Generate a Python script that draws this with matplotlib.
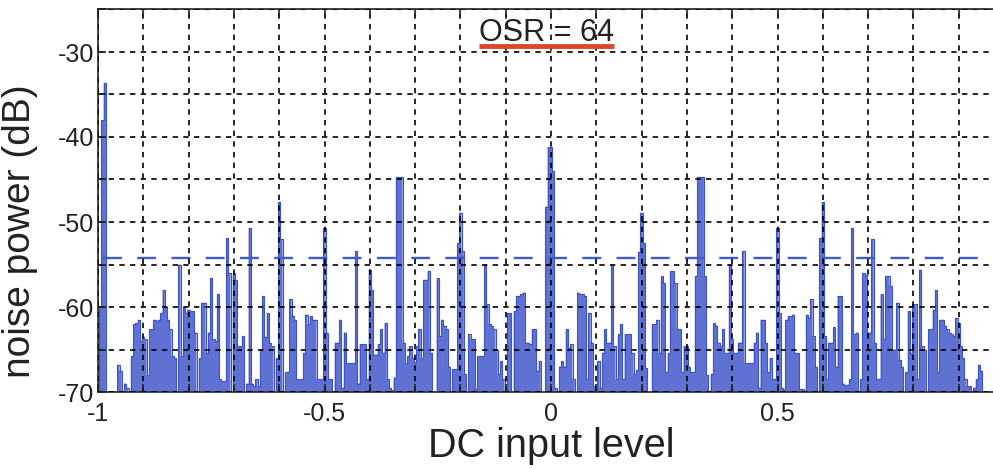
import numpy as np
import matplotlib
matplotlib.use('Agg')
import matplotlib.pyplot as plt
from matplotlib.ticker import MultipleLocator, FuncFormatter

plt.rcParams['font.family'] = ['Liberation Sans', 'DejaVu Sans']

# ---------------- data ----------------
dc_start, dc_stop, dc_count = -1.0, 1.0, 401   # DC input levels, 0.005 apart

# noise power (dB) for DC input -1.000 ... -0.005
noise_neg = [
    -70, -60, -38, -33.7, -70, -70, -70, -70, -70, -66.8, -67.5, -70, -69, -69.5, -70, -65.8, -62, -61.9, -61.5, -64,
    -63.5, -63.8, -68, -62.6, -62.6, -61.5, -61.7, -61.5, -60.7, -58, -60, -61.5, -62.6, -65.8, -66, -70, -55, -65.8, -60, -60.7,
    -60.3, -60.5, -60.5, -63, -70, -66, -59.5, -59.5, -65.4, -63, -56.6, -63.8, -64, -58.5, -68.5, -68.7, -68.7, -51.9, -56, -70,
    -56, -56.8, -64.6, -64.6, -63.4, -70, -69, -50.7, -69, -69.3, -68.5, -69.3, -65, -58.7, -63.5, -60.7, -64.2, -64.6, -70, -66,
    -47.7, -52, -70, -67.7, -67.7, -59.1, -61, -61.5, -68.5, -68.5, -68.5, -65.4, -60.9, -62, -61.1, -61.5, -61.5, -68.5, -68.5, -68.5,
    -50.7, -63, -68.5, -68.5, -70, -64.2, -64.2, -61.5, -69.5, -63, -66.6, -66.6, -66.6, -66.6, -53.4, -69, -64.4, -64.4, -64.4, -68.5,
    -55.6, -58, -65.6, -65.6, -64.4, -62.6, -65.4, -61.9, -68.5, -69.5, -69.8, -68.3, -44.7, -44.7, -44.7, -64.2, -66.6, -65.8, -64.6, -66,
    -66.5, -64.6, -62.6, -66, -56.8, -56.8, -55.8, -65.4, -70, -70, -56.6, -63.4, -61.5, -62.2, -62.6, -67, -70, -67.3, -67.3, -52.5,
    -48.9, -53.4, -67.9, -70, -63.2, -63.8, -63.8, -69.7, -65.8, -65.8, -65.8, -55, -59.7, -62, -62.2, -62.6, -65, -67.9, -66.4, -68.5,
    -70, -60.7, -60.7, -70, -60.5, -58.7, -58.7, -58.5, -58.3, -64.2, -64.2, -64.4, -62.6, -62.6, -67.5, -66.4, -70, -70, -48.2, -41.2,
]

# noise power (dB) for DC input 0.000 ... 1.000
noise_pos = [
    -41.2, -44, -69.5, -70, -67, -66.4, -67, -62.6, -64.8, -64.4, -68.5, -70, -58.3, -58.5, -58.5, -58.7, -68.5, -60.7, -64.2, -69.3,
    -70, -66.4, -69.5, -65.4, -62.6, -64.2, -64.2, -55, -64.6, -68.5, -63.2, -62, -68.5, -63.2, -63.2, -63.2, -65.4, -67.9, -67.4, -53.5,
    -48.9, -52.5, -67.2, -70, -70, -62, -62, -61.5, -65.4, -56.4, -57.2, -67.7, -65.4, -55.8, -55.8, -57.2, -62.6, -62.6, -67.7, -64.6,
    -64.6, -67, -67.7, -67.7, -56.4, -44.7, -44.7, -44.7, -56.4, -68, -70, -67.9, -61.9, -62.2, -64.2, -64.6, -62.6, -65.4, -65.4, -55,
    -63.8, -65.4, -65.4, -64.2, -64.2, -53.4, -66.6, -66.6, -66.6, -66.6, -64.2, -63, -69.5, -61.5, -61.5, -64.2, -67.7, -66, -68.5, -68.5,
    -50.7, -60.7, -69.5, -69.7, -61.5, -61.1, -61.1, -60.9, -65.4, -65.4, -69.7, -69.7, -70, -60.9, -61.3, -59.1, -63.4, -67, -70, -51.9,
    -47.7, -63.4, -68.5, -64.2, -64.2, -62.4, -67, -58.7, -58.7, -69, -69.2, -69.2, -68.5, -50.7, -63.2, -63, -70, -68.5, -56, -56.2,
    -63, -63, -52, -64.2, -68.5, -68.5, -58.5, -63.8, -56.4, -56.4, -57.5, -65, -65, -59.5, -66.2, -67, -70, -67.7, -60.5, -65.4,
    -59.7, -59.7, -68.5, -55.6, -64.6, -65, -70, -62.6, -62.6, -60.3, -58, -67.7, -61.5, -61.5, -62.2, -62.6, -63, -63.2, -63.4, -61.3,
    -61.9, -64.6, -66, -68.5, -69.3, -69.3, -70, -69.5, -68.5, -66.8, -67.5,
    -70, -70, -70, -70, -70, -70, -70, -70, -70, -70,
]

mean_noise_db = -54.2
mean_span = [-0.99, 0.95]
osr_label = 'OSR = 64'
x_label = 'DC input level'
y_label = 'noise power (dB)'
y_min, y_max = -70, -25
x_labeled_max = 0.5

# ---------------- plot ----------------
dc = np.linspace(dc_start, dc_stop, dc_count)
noise = np.array(noise_neg + noise_pos, dtype=float)

fig = plt.figure(figsize=(9.93, 4.69), dpi=100)
W, H = 993, 469
ax = fig.add_axes([98 / W, 77 / H, 906 / W, 382.5 / H])

fill_c = '#5f72d4'
edge_c = '#3d52c6'
ax.fill_between(dc, y_min, noise, step='mid', facecolor=fill_c, linewidth=0, zorder=1)
ax.step(dc, noise, where='mid', color=edge_c, lw=0.8, zorder=1.2)

ax.plot(mean_span, [mean_noise_db, mean_noise_db], color='#3f5acb', lw=1.7,
        dashes=(8, 6.5), zorder=2)

ax.set_xlim(dc_start, dc_stop)
ax.set_ylim(y_min, y_max)

ax.xaxis.set_major_locator(MultipleLocator(0.1))
ax.yaxis.set_major_locator(MultipleLocator(5))


def xfmt(v, pos):
    if abs(v * 2 - round(v * 2)) < 1e-6 and v <= x_labeled_max + 1e-6:
        return '%g' % round(v, 1)
    return ''


def yfmt(v, pos):
    if abs(v / 10 - round(v / 10)) < 1e-6:
        return '%d' % round(v)
    return ''


ax.xaxis.set_major_formatter(FuncFormatter(xfmt))
ax.yaxis.set_major_formatter(FuncFormatter(yfmt))

ax.grid(True, color='black', linestyle=(0, (3.2, 3.2)), linewidth=1.2)
ax.set_axisbelow(False)

ax.tick_params(direction='in', length=6, width=1.2, top=True, right=True,
               labelsize=18, colors='#222222')
ax.tick_params(axis='x', pad=7)
ax.tick_params(axis='y', pad=3)
for s in ax.spines.values():
    s.set_linewidth(1.3)
    s.set_color('#333333')

ax.set_xlabel(x_label, fontsize=28.5, color='#222222', labelpad=1)
ax.set_ylabel(y_label, fontsize=28, color='#222222')
ax.yaxis.set_label_coords(-0.066, 0.42)

t = ax.text(-0.01, -28.7, osr_label, ha='center', va='baseline', fontsize=22,
            color='#222222', zorder=5)
fig.canvas.draw()
bb = t.get_window_extent().transformed(ax.transData.inverted())
ax.plot([bb.x0, bb.x1], [-29.3, -29.3], color='#e0452c', lw=3.5,
        solid_capstyle='butt', zorder=5)

fig.savefig('out.png', dpi=100)
